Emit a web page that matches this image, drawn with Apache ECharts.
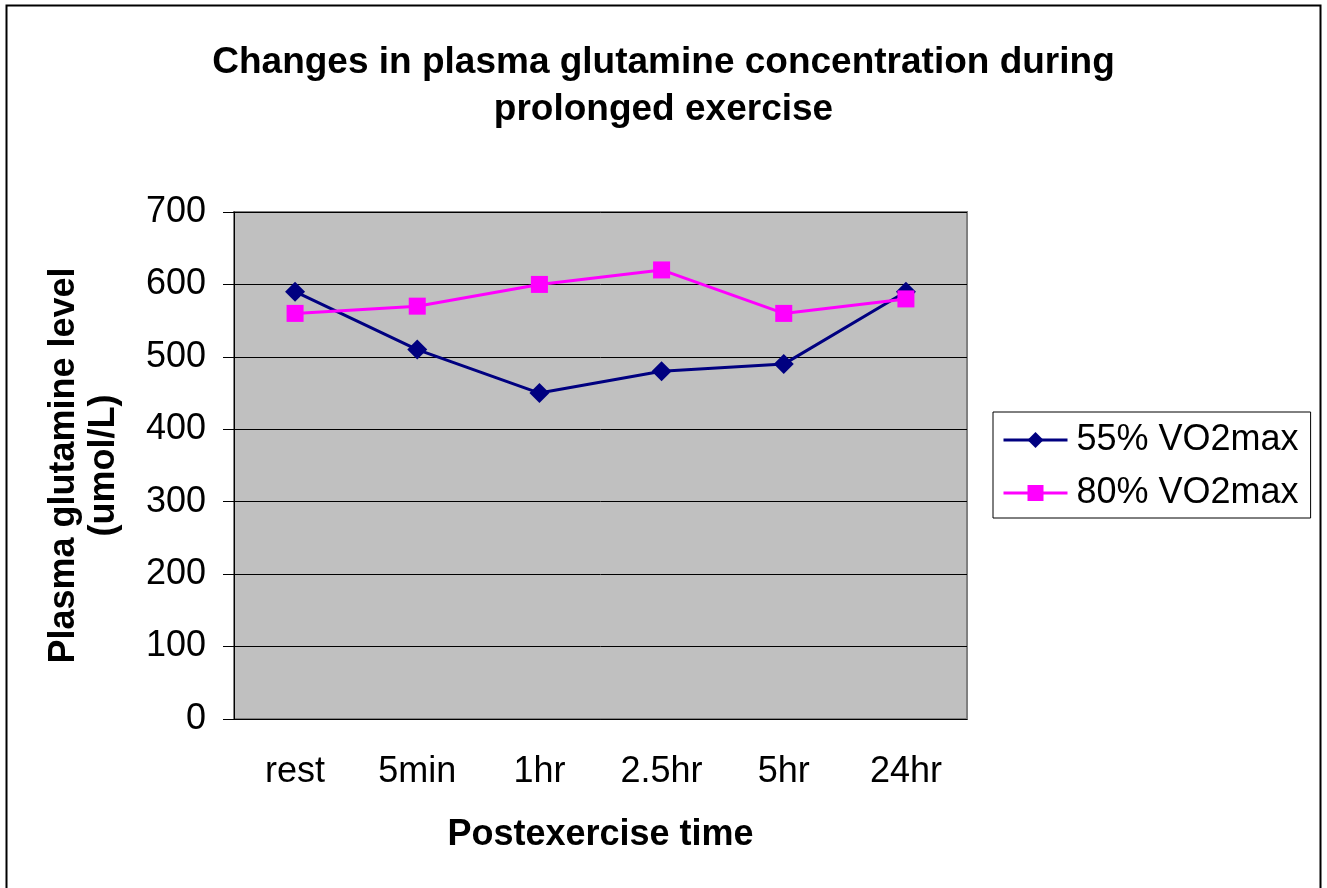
<!DOCTYPE html>
<html lang="en">
<head>
    <meta charset="UTF-8">
    <title>Plasma glutamine</title>
    <style>
        html, body { margin: 0; padding: 0; background: #fff; }
    </style>
</head>
<body>
    <div id="chart" style="width:1327px; height:888px"></div>
    <script src="https://cdn.jsdelivr.net/npm/echarts@6/dist/echarts.min.js"></script>
    <script>
        // data
        const times = ['rest', '5min', '1hr', '2.5hr', '5hr', '24hr'];
        const vo55 = [590, 510, 450, 480, 490, 590];
        const vo80 = [560, 570, 600, 620, 560, 580];
        const yTicks = [0, 100, 200, 300, 400, 500, 600, 700];

        const font = 'Arial, "Liberation Sans", sans-serif';
        const chart = echarts.init(document.getElementById('chart'));

        chart.setOption({
            animation: false,
            textStyle: { fontFamily: font, color: '#000' },
            title: {
                text: 'Changes in plasma glutamine concentration during\nprolonged exercise',
                left: 'center',
                top: 34,
                textStyle: { fontSize: 37, fontWeight: 'bold', lineHeight: 47, color: '#000' }
            },
            // outer frame
            graphic: [{
                type: 'rect',
                shape: { x: 6.5, y: 5.5, width: 1314, height: 890 },
                style: { fill: 'none', stroke: '#000', lineWidth: 2 },
                silent: true
            }],
            grid: {
                left: 234, top: 212, right: 360, bottom: 169,
                show: true, backgroundColor: '#c0c0c0',
                borderColor: '#808080', borderWidth: 2
            },
            legend: {
                orient: 'vertical',
                left: 993, top: 412,
                padding: [8, 12, 5, 9],
                itemGap: 13,
                itemWidth: 64, itemHeight: 20,
                borderColor: '#000', borderWidth: 1,
                backgroundColor: '#fff',
                lineStyle: { width: 3 },
                textStyle: { fontSize: 36, lineHeight: 40, color: '#000', padding: [0, 0, 0, 4] },
                data: ['55% VO2max', '80% VO2max']
            },
            xAxis: {
                type: 'category',
                data: times,
                boundaryGap: true,
                name: 'Postexercise time',
                nameLocation: 'middle',
                nameGap: 98,
                nameTextStyle: { fontSize: 36, fontWeight: 'bold', color: '#000' },
                axisLine: { lineStyle: { color: '#000', width: 1 } },
                axisTick: { length: 11, lineStyle: { color: '#000' } },
                axisLabel: { fontSize: 36, color: '#000', margin: 35 }
            },
            yAxis: {
                type: 'value',
                min: yTicks[0],
                max: yTicks[yTicks.length - 1],
                interval: 100,
                name: 'Plasma glutamine level\n(umol/L)',
                nameLocation: 'middle',
                nameRotate: 90,
                nameGap: 110,
                nameTextStyle: { fontSize: 36, fontWeight: 'bold', color: '#000', lineHeight: 40 },
                axisLine: { show: true, lineStyle: { color: '#000', width: 1 } },
                axisTick: { show: true, length: 11, lineStyle: { color: '#000' } },
                axisLabel: { fontSize: 36, color: '#000', margin: 28 },
                splitLine: { lineStyle: { color: '#000', width: 1 } }
            },
            series: [{
                name: '55% VO2max',
                type: 'line',
                data: vo55,
                symbol: 'diamond',
                symbolSize: 20,
                itemStyle: { color: '#000080' },
                lineStyle: { color: '#000080', width: 3 }
            }, {
                name: '80% VO2max',
                type: 'line',
                data: vo80,
                symbol: 'rect',
                symbolSize: 17,
                itemStyle: { color: '#ff00ff' },
                lineStyle: { color: '#ff00ff', width: 3 }
            }]
        });
    </script>
</body>
</html>
